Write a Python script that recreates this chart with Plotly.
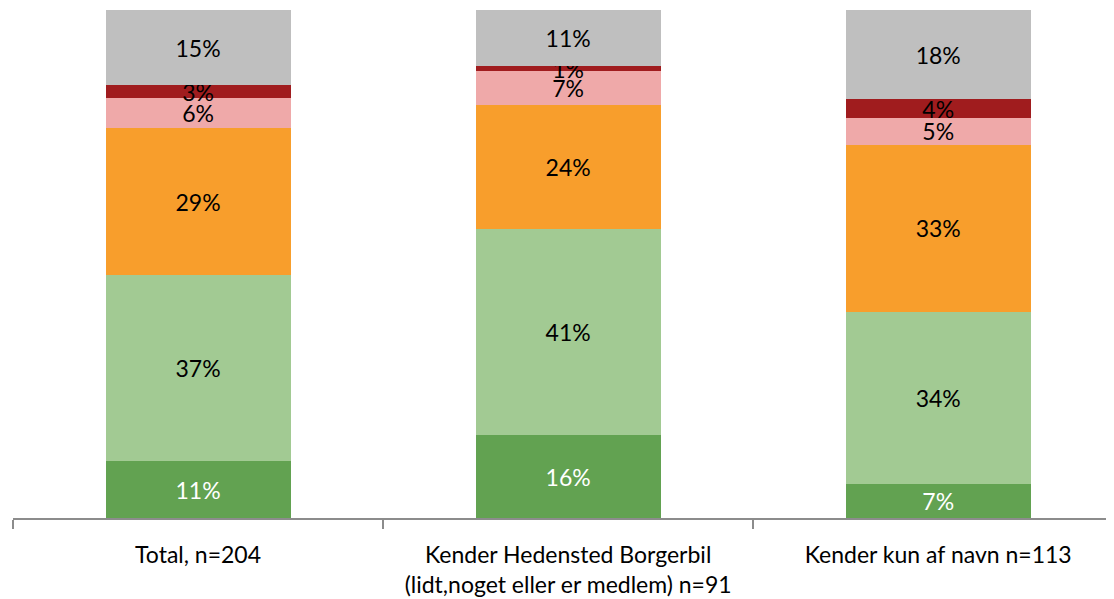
import plotly.graph_objects as go

categories = ["Total, n=204",
              "Kender Hedensted Borgerbil<br>(lidt,noget eller er medlem) n=91",
              "Kender kun af navn n=113"]

seg_dark_green = [11.2, 16.3, 6.7]
seg_light_green = [36.6, 40.6, 33.9]
seg_orange = [28.9, 24.4, 32.9]
seg_pink = [5.9, 6.6, 5.3]
seg_dark_red = [2.6, 1.0, 3.6]
seg_gray = [14.8, 11.1, 17.6]

series = [
    ("s1", seg_dark_green, "#62A251", "white"),
    ("s2", seg_light_green, "#A2CA93", "black"),
    ("s3", seg_orange, "#F89E2C", "black"),
    ("s4", seg_pink, "#EFA9A9", "black"),
    ("s5", seg_dark_red, "#A01C1E", "black"),
    ("s6", seg_gray, "#BFBFBF", "black"),
]

FONT = "Lato, 'Open Sans', sans-serif"

fig = go.Figure()
for name, vals, color, tcolor in series:
    fig.add_trace(go.Bar(
        x=categories, y=vals, name=name,
        marker=dict(color=color, line=dict(width=0)),
        text=[f"{round(v)}%" for v in vals],
        textposition="inside", insidetextanchor="middle",
        textangle=0, constraintext="none",
        textfont=dict(color=tcolor, size=23, family=FONT),
        hoverinfo="skip",
    ))

fig.update_layout(
    barmode="stack", bargap=0.5,
    width=1106, height=591,
    margin=dict(l=5, r=0, t=2, b=81),
    showlegend=False,
    plot_bgcolor="white", paper_bgcolor="white",
    uniformtext=dict(minsize=23, mode="show"),
    font=dict(family=FONT, size=23, color="black"),
)
fig.update_xaxes(
    range=[-0.5, 2.475],
    automargin=False,
    showline=True, linecolor="#8C8C8C", linewidth=1.5,
    ticks="outside", tickson="boundaries", ticklen=9, tickcolor="#8C8C8C", tickwidth=1.5,
    ticklabelstandoff=16,
    tickfont=dict(size=23, family=FONT, color="black"),
    showgrid=False, zeroline=False,
)
fig.update_yaxes(range=[0, 100], visible=False, showgrid=False)

fig.write_html("out.html")
